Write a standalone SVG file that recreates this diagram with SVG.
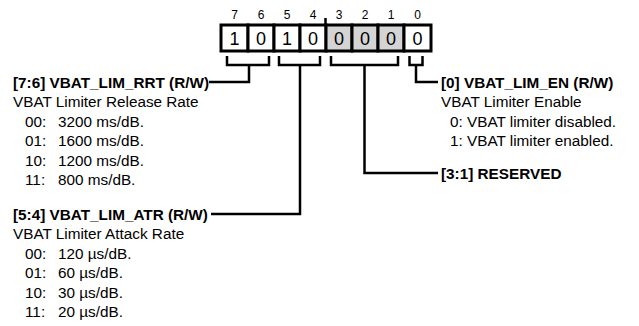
<svg xmlns="http://www.w3.org/2000/svg" width="639" height="326" viewBox="0 0 639 326">
<style>
text{font-family:"Liberation Sans",Arial,sans-serif;fill:#000}
.bn{font-size:12px;text-anchor:middle}
.bv{font-size:18px;text-anchor:middle}
.t{font-size:15.3px;font-weight:bold}
.d{font-size:15.3px}
.cell{stroke:#000;stroke-width:3}
.ln{fill:none;stroke:#000;stroke-width:2.5}
</style>
<rect width="639" height="326" fill="#fff"/>
<g id="register">
<g id="bit-numbers">
<text class="bn" x="234.5" y="19">7</text>
<text class="bn" x="261" y="19">6</text>
<text class="bn" x="287" y="19">5</text>
<text class="bn" x="313" y="19">4</text>
<text class="bn" x="339" y="19">3</text>
<text class="bn" x="365" y="19">2</text>
<text class="bn" x="391" y="19">1</text>
<text class="bn" x="417.5" y="19">0</text>
</g>
<rect class="cell" x="221" y="25" width="27" height="26" fill="#fff"/>
<rect class="cell" x="248" y="25" width="26" height="26" fill="#fff"/>
<rect class="cell" x="274" y="25" width="26" height="26" fill="#fff"/>
<rect class="cell" x="300" y="25" width="26" height="26" fill="#fff"/>
<rect class="cell" x="326" y="25" width="26" height="26" fill="#d4d4d4"/>
<rect class="cell" x="352" y="25" width="26" height="26" fill="#d4d4d4"/>
<rect class="cell" x="378" y="25" width="26" height="26" fill="#d4d4d4"/>
<rect class="cell" x="404" y="25" width="27" height="26" fill="#fff"/>
<text class="bv" x="234.5" y="44.5">1</text>
<text class="bv" x="261" y="44.5">0</text>
<text class="bv" x="287" y="44.5">1</text>
<text class="bv" x="313" y="44.5">0</text>
<text class="bv" x="339" y="44.5">0</text>
<text class="bv" x="365" y="44.5">0</text>
<text class="bv" x="391" y="44.5">0</text>
<text class="bv" x="417.5" y="44.5">0</text>
<line class="ln" x1="325.5" y1="18" x2="325.5" y2="25"/>
</g>
<g id="connectors">
<path class="ln" d="M227,56 V65 H269 V56 M249,65 V82 H209"/>
<path class="ln" d="M279,56 V65 H320 V56 M300,65 V214 H211"/>
<path class="ln" d="M331,56 V65 H398 V56 M364.5,65 V173 H438"/>
<path class="ln" d="M409.5,56 V65 H422.5 V56 M416,65 V82 H438"/>
</g>
<g id="field-rrt">
<text class="t" x="13" y="87.5">[7:6] VBAT_LIM_RRT (R/W)</text>
<text class="d" x="13" y="107">VBAT Limiter Release Rate</text>
<text class="d" x="25" y="126.5">00:</text><text class="d" x="58" y="126.5">3200 ms/dB.</text>
<text class="d" x="25" y="146">01:</text><text class="d" x="58" y="146">1600 ms/dB.</text>
<text class="d" x="25" y="165.5">10:</text><text class="d" x="58" y="165.5">1200 ms/dB.</text>
<text class="d" x="25" y="185">11:</text><text class="d" x="58" y="185">800 ms/dB.</text>
</g>
<g id="field-atr">
<text class="t" x="13" y="219.5">[5:4] VBAT_LIM_ATR (R/W)</text>
<text class="d" x="13" y="239">VBAT Limiter Attack Rate</text>
<text class="d" x="25" y="258.5">00:</text><text class="d" x="58" y="258.5">120 µs/dB.</text>
<text class="d" x="25" y="278">01:</text><text class="d" x="58" y="278">60 µs/dB.</text>
<text class="d" x="25" y="297.5">10:</text><text class="d" x="58" y="297.5">30 µs/dB.</text>
<text class="d" x="25" y="317">11:</text><text class="d" x="58" y="317">20 µs/dB.</text>
</g>
<g id="field-en">
<text class="t" x="441" y="87.5">[0] VBAT_LIM_EN (R/W)</text>
<text class="d" x="441" y="107">VBAT Limiter Enable</text>
<text class="d" x="450" y="126.5">0:</text><text class="d" x="467" y="126.5">VBAT limiter disabled.</text>
<text class="d" x="450" y="146">1:</text><text class="d" x="467" y="146">VBAT limiter enabled.</text>
</g>
<g id="field-reserved">
<text class="t" x="441" y="178.5">[3:1] RESERVED</text>
</g>
</svg>
